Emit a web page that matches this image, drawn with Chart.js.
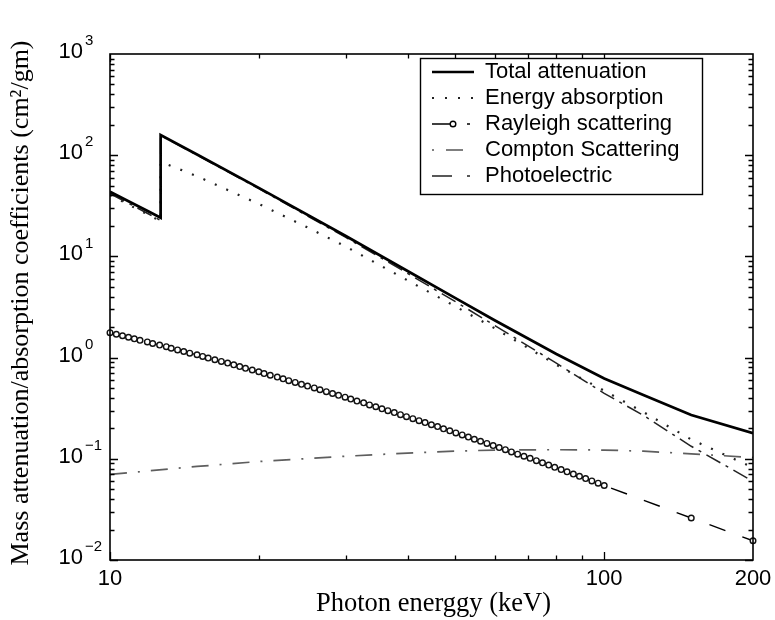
<!DOCTYPE html>
<html>
<head>
<meta charset="utf-8">
<script src="https://cdn.jsdelivr.net/npm/chart.js@4/dist/chart.umd.min.js"></script>
<style>
  html, body { margin: 0; padding: 0; background: #fff; }
  canvas { display: block; }
</style>
</head>
<body>
<canvas id="chart" width="775" height="620"></canvas>
<script>
// Photon energy (keV) and mass coefficients (cm^2/gm); the K-edge sits at 12.66 keV
const totalEnergy = [10, 11, 12, 12.66, 12.66, 15, 20, 30, 40, 50, 60, 80, 100, 120, 150, 200];
const totalValues = [43.6, 34.3, 27.6, 24.1, 158, 101.6, 47.5, 15.9, 7.18, 3.87, 2.34, 1.087, 0.621, 0.428, 0.271, 0.179];

const absorptionEnergy = [10, 11, 12, 12.66, 12.66, 15, 20, 25, 30, 40, 50, 60, 80, 100, 120, 150, 200];
const absorptionValues = [40.5, 31.8, 25.5, 22.3, 86, 62, 33, 19.5, 12.5, 5.8, 3.2, 1.95, 0.85, 0.47, 0.29, 0.155, 0.082];

const rayleighEnergy = [
  10, 10.3, 10.6, 10.9, 11.2, 11.5, 11.9, 12.2, 12.6, 13.0,
  13.3, 13.7, 14.1, 14.5, 15.0, 15.4, 15.8, 16.3, 16.8, 17.3,
  17.8, 18.3, 18.8, 19.4, 20.0, 20.5, 21.1, 21.8, 22.4, 23.0,
  23.7, 24.4, 25.1, 25.9, 26.6, 27.4, 28.2, 29.0, 29.9, 30.7,
  31.6, 32.6, 33.5, 34.5, 35.5, 36.5, 37.6, 38.7, 39.8, 41.0,
  42.2, 43.4, 44.7, 46.0, 47.3, 48.7, 50.1, 51.6, 53.1, 54.6,
  56.2, 57.9, 59.6, 61.3, 63.1, 64.9, 66.8, 68.8, 70.8, 72.9,
  75.0, 77.2, 79.4, 81.8, 84.1, 86.6, 89.1, 91.7, 94.4, 97.2,
  100, 150, 200
];
const rayleighValues = [
  1.762, 1.702, 1.644, 1.588, 1.533, 1.481, 1.429, 1.379, 1.330, 1.283,
  1.237, 1.192, 1.149, 1.107, 1.067, 1.027, 0.989, 0.952, 0.916, 0.882,
  0.848, 0.816, 0.784, 0.754, 0.725, 0.696, 0.669, 0.642, 0.617, 0.592,
  0.568, 0.545, 0.523, 0.502, 0.481, 0.461, 0.442, 0.424, 0.406, 0.389,
  0.372, 0.357, 0.341, 0.327, 0.312, 0.299, 0.286, 0.273, 0.261, 0.249,
  0.238, 0.228, 0.217, 0.208, 0.198, 0.189, 0.180, 0.172, 0.164, 0.156,
  0.149, 0.142, 0.135, 0.129, 0.123, 0.117, 0.111, 0.106, 0.101, 0.0959,
  0.0912, 0.0867, 0.0824, 0.0783, 0.0744, 0.0706, 0.0671, 0.0637, 0.0605, 0.0574,
  0.0545, 0.026, 0.0155
];

const comptonEnergy = [10, 15, 20, 30, 40, 50, 60, 80, 100, 120, 150, 200];
const comptonValues = [0.070, 0.084, 0.094, 0.106, 0.114, 0.119, 0.122, 0.123, 0.122, 0.119, 0.112, 0.103];

const photoEnergy = [10, 11, 12, 12.66, 12.66, 15, 20, 30, 40, 50, 60, 80, 100, 120, 150, 200];
const photoValues = [41.8, 32.7, 26.1, 22.6, 156.5, 100.4, 46.7, 15.4, 6.8, 3.57, 2.08, 0.88, 0.444, 0.269, 0.133, 0.060];

const seriesLabels = ['Total attenuation', 'Energy absorption', 'Rayleigh scattering', 'Compton Scattering', 'Photoelectric'];

const xTickValues = [10, 100, 200];
const xTickLabels = ['10', '100', '200'];
const yTickExponents = [-2, -1, 0, 1, 2, 3];

const xTitle = 'Photon energgy (keV)';
const yTitle = 'Mass attenuation/absorption coefficients (cm\u00B2/gm)';

const pairs = (xs, ys) => xs.map((x, i) => ({ x: x, y: ys[i] }));

const SANS = '"Liberation Sans", Arial, Helvetica, sans-serif';
const SERIF = '"Liberation Serif", "Times New Roman", Times, serif';

// legend sample strokes: [color, width, dash, dashOffset, marker]
const legendSamples = [
  ['#000', 2.6, [], 0, false],
  ['#222', 2.2, [2, 11], 0, false],
  ['#000', 1.4, [20, 15, 3, 60], 0, true],
  ['#555', 1.6, [2, 12, 17, 40], 0, false],
  ['#222', 1.5, [20, 15, 3, 60], 0, false]
];

const framePlugin = {
  id: 'frameAndAxes',
  afterDatasetsDraw(chart) {
    const ctx = chart.ctx;
    const xs = chart.scales.x, ys = chart.scales.y;
    const a = chart.chartArea;
    ctx.save();
    ctx.strokeStyle = '#000';
    ctx.fillStyle = '#000';

    // inward tick marks on all four sides
    ctx.lineWidth = 1.3;
    ctx.beginPath();
    for (let e = -2; e <= 2; e++) {
      for (let m = 1; m <= 9; m++) {
        const py = Math.round(ys.getPixelForValue(m * Math.pow(10, e))) + 0.5;
        const len = m === 1 ? 8 : 4.5;
        ctx.moveTo(a.left, py); ctx.lineTo(a.left + len, py);
        ctx.moveTo(a.right, py); ctx.lineTo(a.right - len, py);
      }
    }
    for (let v = 10; v <= 100; v += 10) {
      const px = Math.round(xs.getPixelForValue(v)) + 0.5;
      const len = (v === 10 || v === 100) ? 8 : 4.5;
      ctx.moveTo(px, a.bottom); ctx.lineTo(px, a.bottom - len);
      ctx.moveTo(px, a.top); ctx.lineTo(px, a.top + len);
    }
    ctx.stroke();

    // plot frame
    ctx.lineWidth = 1.6;
    ctx.strokeRect(a.left, a.top, a.right - a.left, a.bottom - a.top);

    // y tick labels: 10 with a raised exponent
    yTickExponents.forEach(exp => {
      const py = ys.getPixelForValue(Math.pow(10, exp));
      ctx.font = '22px ' + SANS;
      ctx.textAlign = 'right';
      ctx.textBaseline = 'middle';
      ctx.fillText('10', 83, py - 2);
      ctx.font = '15px ' + SANS;
      ctx.textAlign = 'left';
      ctx.fillText(exp < 0 ? '\u2212' + (-exp) : String(exp), 85, py - 13);
    });

    // x tick labels
    ctx.font = '22px ' + SANS;
    ctx.textAlign = 'center';
    ctx.textBaseline = 'middle';
    xTickValues.forEach((v, i) => {
      ctx.fillText(xTickLabels[i], xs.getPixelForValue(v), a.bottom + 19);
    });

    // axis titles
    ctx.font = '26.5px ' + SERIF;
    ctx.fillText(xTitle, (a.left + a.right) / 2 + 2, a.bottom + 44);
    ctx.font = '26px ' + SERIF;
    ctx.save();
    ctx.translate(21, (a.top + a.bottom) / 2 - 4);
    ctx.rotate(-Math.PI / 2);
    ctx.fillText(yTitle, 0, 0);
    ctx.restore();

    // legend box
    const bx = 420, by = 58, bw = 282, bh = 136;
    ctx.fillStyle = '#fff';
    ctx.fillRect(bx, by, bw, bh);
    ctx.lineWidth = 1.4;
    ctx.strokeStyle = '#000';
    ctx.strokeRect(bx + 0.5, by + 0.5, bw, bh);
    chart.data.datasets.forEach((ds, i) => {
      const rowY = by + 14 + i * 26;
      const s = legendSamples[i];
      ctx.save();
      ctx.strokeStyle = s[0];
      ctx.lineWidth = s[1];
      ctx.setLineDash(s[2]);
      ctx.lineDashOffset = s[3];
      ctx.beginPath();
      ctx.moveTo(432, rowY);
      ctx.lineTo(474, rowY);
      ctx.stroke();
      ctx.restore();
      if (s[4]) {
        ctx.beginPath();
        ctx.arc(453, rowY, 2.8, 0, Math.PI * 2);
        ctx.fillStyle = '#fff';
        ctx.fill();
        ctx.lineWidth = 1.4;
        ctx.strokeStyle = '#000';
        ctx.stroke();
      }
      ctx.fillStyle = '#000';
      ctx.font = '22px ' + SANS;
      ctx.textAlign = 'left';
      ctx.textBaseline = 'middle';
      ctx.fillText(ds.label, 485, rowY);
    });
    ctx.restore();
  }
};

new Chart(document.getElementById('chart'), {
  type: 'line',
  data: {
    datasets: [
      {
        label: seriesLabels[0],
        data: pairs(totalEnergy, totalValues),
        borderColor: '#000', borderWidth: 2.7,
        pointRadius: 0, tension: 0
      },
      {
        label: seriesLabels[1],
        data: pairs(absorptionEnergy, absorptionValues),
        borderColor: '#222', borderWidth: 2.2, borderDash: [2, 10.5],
        pointRadius: 0, tension: 0
      },
      {
        label: seriesLabels[2],
        data: pairs(rayleighEnergy, rayleighValues),
        borderColor: '#000', borderWidth: 1.4, borderDash: [17, 18],
        pointRadius: 2.8, pointBorderWidth: 1.4,
        pointBackgroundColor: '#fff', pointBorderColor: '#111',
        tension: 0, clip: false
      },
      {
        label: seriesLabels[3],
        data: pairs(comptonEnergy, comptonValues),
        borderColor: '#5e5e5e', borderWidth: 1.7, borderDash: [17, 11, 2, 11],
        pointRadius: 0, tension: 0
      },
      {
        label: seriesLabels[4],
        data: pairs(photoEnergy, photoValues),
        borderColor: '#222', borderWidth: 1.5, borderDash: [16, 6, 3, 6],
        pointRadius: 0, tension: 0
      }
    ]
  },
  options: {
    responsive: false,
    devicePixelRatio: 1,
    animation: false,
    events: [],
    layout: { padding: { left: 110, right: 22, top: 54, bottom: 60 } },
    scales: {
      x: { type: 'logarithmic', min: 10, max: 200, display: false },
      y: { type: 'logarithmic', min: 0.01, max: 1000, display: false }
    },
    plugins: { legend: { display: false }, tooltip: { enabled: false } }
  },
  plugins: [framePlugin]
});
</script>
</body>
</html>
